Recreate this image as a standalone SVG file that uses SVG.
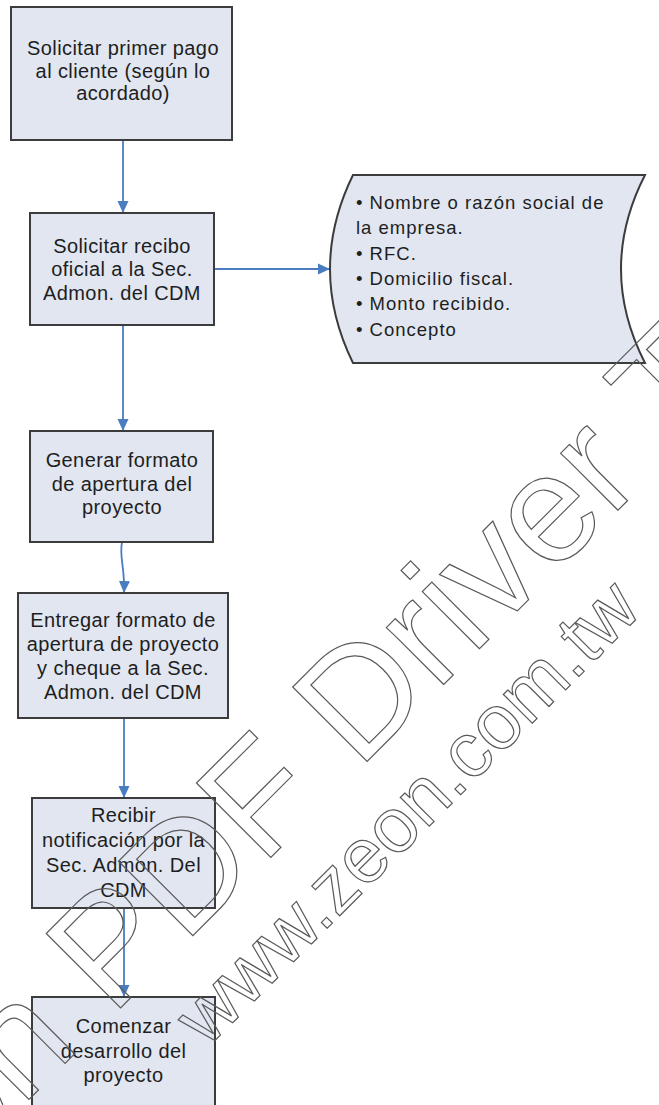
<svg xmlns="http://www.w3.org/2000/svg" width="659" height="1105" viewBox="0 0 659 1105">
<defs>
<style>
.box{fill:#e1e6f1;stroke:#3c3c3c;stroke-width:2}
.t{font-family:"Liberation Sans",Arial,sans-serif;font-size:20px;fill:#1e1e1e;text-anchor:middle;letter-spacing:0.4px}
.d{font-family:"Liberation Sans",Arial,sans-serif;font-size:18.5px;fill:#1e1e1e;letter-spacing:1px}
.c{fill:none;stroke:#4a7dbf;stroke-width:1.8}
.wm{font-family:"Liberation Sans",Arial,sans-serif;fill:none;stroke:#5a5a5a;stroke-width:1.2}
</style>
<marker id="ah" viewBox="0 0 12 12" refX="12" refY="6" markerWidth="12" markerHeight="12" markerUnits="userSpaceOnUse" orient="auto">
<path d="M0,0.5 L12,6 L0,11.5 z" fill="#4a7dbf"/>
</marker>
</defs>
<rect width="659" height="1105" fill="#ffffff"/>

<g id="connectors">
<path class="c" d="M123,140 L123,213" marker-end="url(#ah)"/>
<path class="c" d="M214,269 L330,269" marker-end="url(#ah)"/>
<path class="c" d="M123,325 L123,431" marker-end="url(#ah)"/>
<path class="c" d="M122,542 C119,558 125,566 124,593" marker-end="url(#ah)"/>
<path class="c" d="M124,718 L124,798" marker-end="url(#ah)"/>
<path class="c" d="M124,908 L124,997" marker-end="url(#ah)"/>
</g>

<g id="n1">
<rect class="box" x="11" y="7" width="221" height="133"/>
<text class="t" x="123" y="55">Solicitar primer pago</text>
<text class="t" x="123" y="77.5">al cliente (según lo</text>
<text class="t" x="123" y="100">acordado)</text>
</g>

<g id="n2">
<rect class="box" x="30" y="213" width="184" height="112"/>
<text class="t" x="122" y="252.5">Solicitar recibo</text>
<text class="t" x="122" y="276">oficial a la Sec.</text>
<text class="t" x="122" y="299.5">Admon. del CDM</text>
</g>

<g id="n_data">
<path class="box" d="M353,175 L645,175 Q597,269 645,363 L353,363 Q307,269 353,175 Z"/>
<text class="d" x="356" y="209">• Nombre o razón social de</text>
<text class="d" x="356" y="234">la empresa.</text>
<text class="d" x="356" y="259.5">• RFC.</text>
<text class="d" x="356" y="285">• Domicilio fiscal.</text>
<text class="d" x="356" y="310">• Monto recibido.</text>
<text class="d" x="356" y="335.5">• Concepto</text>
</g>

<g id="n3">
<rect class="box" x="30" y="431" width="183" height="111"/>
<text class="t" x="122" y="467">Generar formato</text>
<text class="t" x="122" y="490.5">de apertura del</text>
<text class="t" x="122" y="514">proyecto</text>
</g>

<g id="n4">
<rect class="box" x="18" y="593" width="210" height="125"/>
<text class="t" x="123" y="626.5">Entregar formato de</text>
<text class="t" x="123" y="650.5">apertura de proyecto</text>
<text class="t" x="123" y="674.5">y cheque a la Sec.</text>
<text class="t" x="123" y="698.5">Admon. del CDM</text>
</g>

<g id="n5">
<rect class="box" x="32" y="798" width="183" height="110"/>
<text class="t" x="123.5" y="822">Recibir</text>
<text class="t" x="123.5" y="847">notificación por la</text>
<text class="t" x="123.5" y="872">Sec. Admon. Del</text>
<text class="t" x="123.5" y="897">CDM</text>
</g>

<g id="n6">
<rect class="box" x="32" y="997" width="183" height="130"/>
<text class="t" x="123.5" y="1033">Comenzar</text>
<text class="t" x="123.5" y="1057.5">desarrollo del</text>
<text class="t" x="123.5" y="1082">proyecto</text>
</g>

<g id="watermark" class="wm">
<text transform="translate(111.7,1016.7) rotate(-45)" x="-391.2" y="0" font-size="153">Zeon PDF Driver Trial</text>
<text transform="translate(207,1048.5) rotate(-45)" x="0" y="0" font-size="77.2">www.zeon.com.tw</text>
</g>
</svg>
